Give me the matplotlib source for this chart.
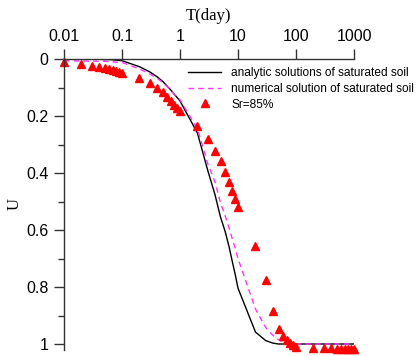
import matplotlib
matplotlib.use("Agg")
import matplotlib.pyplot as plt
from matplotlib.ticker import FixedLocator, NullLocator, FixedFormatter

# ---- data ----
t_grid = [0.01, 0.02, 0.03, 0.04, 0.05, 0.06, 0.07, 0.08, 0.09,
          0.1, 0.2, 0.3, 0.4, 0.5, 0.6, 0.7, 0.8, 0.9,
          1, 2, 3, 4, 5, 6, 7, 8, 9,
          10, 20, 30, 40, 50, 60, 70, 80, 90,
          100, 200, 300, 400, 500, 600, 700, 800, 900, 1000]

u_analytic = [0.0, 0.0, 0.001, 0.001, 0.002, 0.002, 0.003, 0.004, 0.005,
              0.006, 0.027, 0.045, 0.062, 0.078, 0.095, 0.11, 0.124, 0.136,
              0.147, 0.26, 0.39, 0.475, 0.555, 0.605, 0.658, 0.712, 0.758,
              0.804, 0.958, 0.988, 0.997, 1.0, 1.0, 1.0, 1.0, 1.0,
              1.0, 1.0, 1.0, 1.0, 1.0, 1.0, 1.0, 1.0, 1.0, 1.0]

u_numerical = [0.006, 0.007, 0.007, 0.008, 0.008, 0.009, 0.010, 0.011, 0.011,
               0.012, 0.035, 0.052, 0.067, 0.082, 0.097, 0.111, 0.124, 0.134,
               0.143, 0.245, 0.367, 0.43, 0.505, 0.55, 0.592, 0.632, 0.666,
               0.70, 0.877, 0.942, 0.97, 0.985, 0.993, 0.997, 1.0, 1.0,
               1.0, 1.0, 1.0, 1.0, 1.0, 1.0, 1.0, 1.0, 1.0, 1.0]

u_sr85 = [0.012, 0.018, 0.023, 0.027, 0.031, 0.035, 0.039, 0.043, 0.046,
          0.049, 0.068, 0.085, 0.102, 0.117, 0.132, 0.148, 0.162, 0.173,
          0.181, 0.235, 0.28, 0.322, 0.359, 0.395, 0.432, 0.462, 0.491,
          0.518, 0.656, 0.775, 0.884, 0.948, 0.972, 0.986, 0.998, 1.005,
          1.01, 1.013, 1.013, 1.015, 1.017, 1.018, 1.018, 1.018, 1.019, 1.019]

x_ticks = [0.01, 0.1, 1, 10, 100, 1000]
x_ticklabels = ["0.01", "0.1", "1", "10", "100", "1000"]
y_ticks = [0, 0.2, 0.4, 0.6, 0.8, 1.0]
y_ticklabels = ["0", "0.2", "0.4", "0.6", "0.8", "1"]
y_minor = [0.1, 0.3, 0.5, 0.7, 0.9]

labels = ["analytic solutions of saturated soil",
          "numerical solution of saturated soil",
          "Sr=85%"]

# ---- figure ----
fig = plt.figure(figsize=(4.16, 3.56), dpi=100)
ax = fig.add_axes([64/416, 1 - 349.7/356, 290/416, 290.7/356])

sans = ["Liberation Sans", "DejaVu Sans"]
serif = ["Liberation Serif", "DejaVu Serif"]

ax.plot(t_grid, u_analytic, color="black", lw=1.0, label=labels[0])
ax.plot(t_grid, u_numerical, color="#ff33ff", lw=1.0, ls=(0, (4, 3)), label=labels[1])
ax.plot(t_grid, u_sr85, ls="none", marker="^", ms=6, color="red",
        mec="red", label=labels[2], clip_on=False)

ax.set_xscale("log")
ax.set_xlim(0.01, 1000)
ax.set_ylim(1.02, 0)

ax.xaxis.set_ticks_position("top")
ax.xaxis.set_label_position("top")
ax.xaxis.set_major_locator(FixedLocator(x_ticks))
ax.xaxis.set_major_formatter(FixedFormatter(x_ticklabels))
ax.xaxis.set_minor_locator(NullLocator())
ax.yaxis.set_major_locator(FixedLocator(y_ticks))
ax.yaxis.set_major_formatter(FixedFormatter(y_ticklabels))
ax.yaxis.set_minor_locator(FixedLocator(y_minor))

for s in ["right", "bottom"]:
    ax.spines[s].set_visible(False)
for s in ["left", "top"]:
    ax.spines[s].set_color("#333333")
    ax.spines[s].set_linewidth(1.0)

ax.tick_params(axis="both", which="major", direction="out", length=7,
               width=1.0, color="#333333", labelsize=11.5, pad=4)
ax.tick_params(axis="y", which="minor", direction="out", length=4,
               width=1.0, color="#333333")
for lab in ax.get_xticklabels() + ax.get_yticklabels():
    lab.set_fontfamily(sans)

ax.set_xlabel("T(day)", family=serif, fontsize=12, labelpad=6)
ax.set_ylabel("U", family=serif, fontsize=12, labelpad=3)

leg = ax.legend(loc="upper left", bbox_to_anchor=(185.5/416, 1 - 65/356),
                bbox_transform=fig.transFigure, frameon=False,
                prop={"family": sans, "size": 8.6}, handlelength=2.8,
                handletextpad=0.85, labelspacing=0.3, borderpad=0.2,
                borderaxespad=0)

fig.savefig("out.png", dpi=100)
